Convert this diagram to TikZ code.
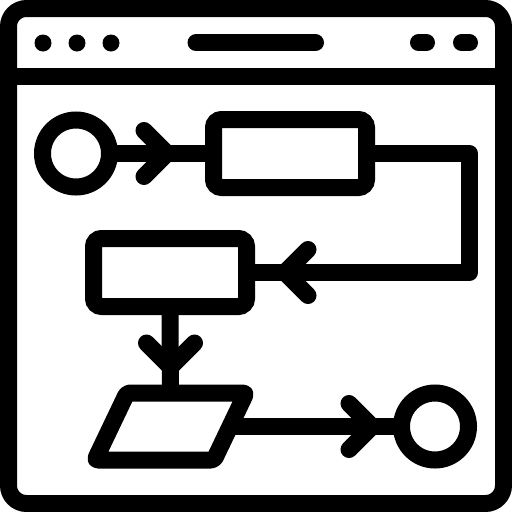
\documentclass[tikz,border=0pt]{standalone}
\begin{document}
\begin{tikzpicture}[x=1pt,y=-1pt,
  ln/.style={line width=17pt},
  rnd/.style={ln,line cap=round,line join=round},
  termnode/.style={circle,draw,ln,minimum size=67pt,inner sep=0pt,outer sep=0pt},
  procnode/.style={draw,ln,rounded corners=8pt,minimum width=153pt,minimum height=68pt,inner sep=0pt,outer sep=0pt},
  dotnode/.style={circle,fill,minimum size=17pt,inner sep=0pt}]
\useasboundingbox (0,0) rectangle (512,512);
% window frame
\draw[ln,rounded corners=18pt] (8.5,8.5) rectangle (503.5,503.5);
\coordinate (hl) at (17,76.5);
\coordinate (hr) at (495,76.5);
\draw[ln] (hl) -- (hr);
\node[dotnode] (d1) at (43,43) {};
\node[dotnode] (d2) at (77,43) {};
\node[dotnode] (d3) at (111,43) {};
\coordinate (b1) at (196,42.7);
\coordinate (b2) at (315.5,42.7);
\draw[rnd] (b1) -- (b2);
\coordinate (p1a) at (418.5,42.7);
\coordinate (p1b) at (426.5,42.7);
\draw[rnd] (p1a) -- (p1b);
\coordinate (p2a) at (461.5,42.7);
\coordinate (p2b) at (469.5,42.7);
\draw[rnd] (p2a) -- (p2b);
% flow nodes
\node[termnode] (start) at (76,153.5) {};
\node[procnode] (r1) at (290,153.5) {};
\node[procnode] (r2) at (170,272.5) {};
\node[termnode] (end) at (435,426.5) {};
\draw[ln,line join=round,rounded corners=3pt] (127,393) -- (246,393) -- (214,460) -- (95,460) -- cycle;
\coordinate (paraT) at (170.5,393);
\coordinate (paraR) at (230,426.5);
% connectors
\draw[ln] (start) -- (r1);
\draw[ln,line join=round] (r1.east) -- ++(103,0) |- (r2.east);
\draw[ln] (r2.south) -- (paraT);
\draw[ln] (paraR) -- (end);
% chevrons
\draw[rnd] (144,130.5) -- (167,153.5) -- (144,176.5);
\draw[rnd] (308,249.5) -- (285,272.5) -- (308,295.5);
\draw[rnd] (146.5,343) -- (170.5,367) -- (194.5,343);
\draw[rnd] (349,403.5) -- (372,426.5) -- (349,449.5);
\end{tikzpicture}
\end{document}
